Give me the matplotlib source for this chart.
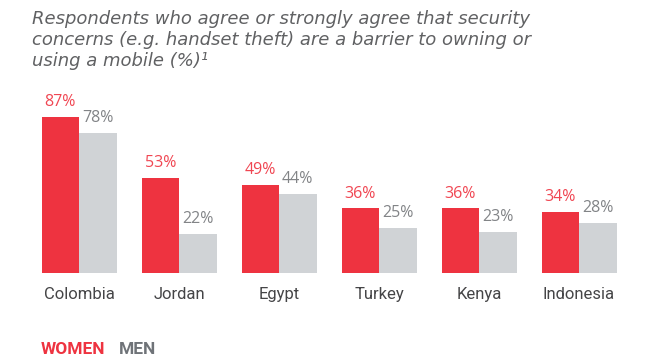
import matplotlib
matplotlib.use("Agg")
import matplotlib.pyplot as plt
import numpy as np

countries = ["Colombia", "Jordan", "Egypt", "Turkey", "Kenya", "Indonesia"]
women = [87, 53, 49, 36, 36, 34]
men = [78, 22, 44, 25, 23, 28]
title = ("Respondents who agree or strongly agree that security\n"
         "concerns (e.g. handset theft) are a barrier to owning or\n"
         "using a mobile (%)\u00b9")

RED = "#ee3340"
GREY = "#d0d3d6"
RED_TXT = "#f04652"
GREY_TXT = "#828487"

W, H = 647, 360
fig = plt.figure(figsize=(W / 100, H / 100), dpi=100)
# axes in pixel coords: left 29, right 629, baseline 273 from top, top 94
ax = fig.add_axes([29 / W, (H - 273) / H, 600 / W, 179.3 / H])
x = np.arange(len(countries))
bw = 0.375
ax.bar(x - bw / 2, women, bw, color=RED, linewidth=0)
ax.bar(x + bw / 2, men, bw, color=GREY, linewidth=0)
for xi, w, m in zip(x, women, men):
    ax.text(xi - bw / 2, w + 3.8, f"{w}%", ha="center", va="bottom",
            color=RED_TXT, fontsize=11.5, family="Open Sans")
    ax.text(xi + bw / 2, m + 3.8, f"{m}%", ha="center", va="bottom",
            color=GREY_TXT, fontsize=11.5, family="Open Sans")
ax.set_xlim(-0.5, 5.5)
ax.set_ylim(0, 100)
ax.set_xticks(x)
ax.set_xticklabels(countries, fontsize=12, color="#454547", family="Roboto")
ax.tick_params(axis="x", length=0, pad=10)
ax.set_yticks([])
for s in ax.spines.values():
    s.set_visible(False)

fig.text(32 / W, 1 - 10 / H, title, ha="left", va="top", fontsize=13,
         style="italic", color="#606163", family="DejaVu Sans", linespacing=1.2)
fig.text(41 / W, 1 - 350 / H, "WOMEN", ha="left", va="center", fontsize=12.5,
         weight="bold", color=RED, family="Roboto")
fig.text(119 / W, 1 - 350 / H, "MEN", ha="left", va="center", fontsize=12.5,
         weight="bold", color="#6f7378", family="Roboto")

fig.savefig("out.png", dpi=100)
